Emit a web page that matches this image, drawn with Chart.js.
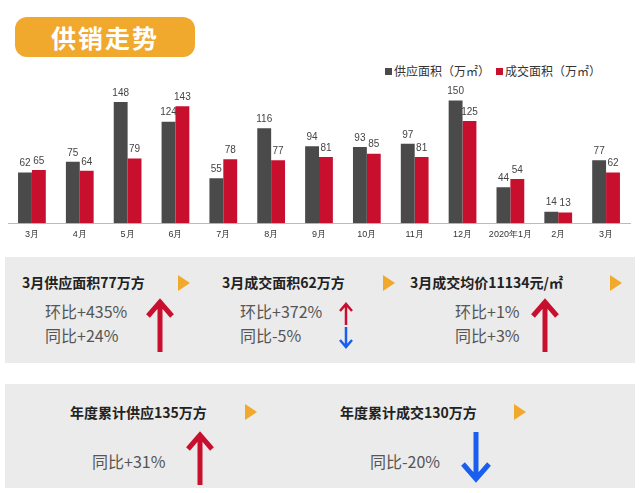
<!DOCTYPE html>
<html><head><meta charset="utf-8">
<script src="https://cdn.jsdelivr.net/npm/chart.js@4"></script>
<style>
body{margin:0;width:640px;height:493px;background:#fff;font-family:"Noto Sans CJK SC","Noto Sans",sans-serif;position:relative;overflow:hidden}
.abs{position:absolute;white-space:nowrap}
.badge{left:15px;top:17px;width:180px;height:40px;background:#f0a92c;border-radius:12px;color:#fff;font-size:25px;font-weight:bold;line-height:40px;text-align:center;letter-spacing:2px}
.panel{position:absolute;left:5px;width:630px;background:#ebebeb}
.h{font-size:14px;font-weight:bold;color:#222}
.s{font-size:16px;color:#555}
.tri{width:0;height:0;border-top:8px solid transparent;border-bottom:8px solid transparent;border-left:12px solid #f0a92c}
.leg{font-size:12px;color:#333;top:62px}
.sq{display:inline-block;width:7px;height:7px;margin-right:2px;vertical-align:1px}
</style></head><body>
<div class="abs badge">供销走势</div>
<div class="abs leg" style="left:385px"><span class="sq" style="background:#4a4a4a"></span>供应面积（万㎡）<span class="sq" style="background:#c8102e;margin-left:6px"></span>成交面积（万㎡）</div>
<div class="abs" style="left:0;top:80px;width:640px;height:166px"><canvas id="c"></canvas></div>

<div class="panel" style="top:257px;height:106px"></div>
<div class="panel" style="top:384px;height:104px"></div>

<div class="abs h" style="left:22px;top:272px">3月供应面积77万方</div><div class="abs tri" style="left:178px;top:275px"></div>
<div class="abs h" style="left:222px;top:272px">3月成交面积62万方</div><div class="abs tri" style="left:383px;top:275px"></div>
<div class="abs h" style="left:410px;top:272px">3月成交均价11134元/㎡</div><div class="abs tri" style="left:610px;top:275px"></div>
<div class="abs s" style="left:45px;top:299px">环比+435%</div>
<div class="abs s" style="left:45px;top:323px">同比+24%</div>
<div class="abs s" style="left:240px;top:299px">环比+372%</div>
<div class="abs s" style="left:240px;top:323px">同比-5%</div>
<div class="abs s" style="left:455px;top:299px">环比+1%</div>
<div class="abs s" style="left:455px;top:323px">同比+3%</div>
<div class="abs h" style="left:70px;top:402px">年度累计供应135万方</div><div class="abs tri" style="left:245px;top:404px"></div>
<div class="abs h" style="left:340px;top:402px">年度累计成交130万方</div><div class="abs tri" style="left:514px;top:404px"></div>
<div class="abs s" style="left:92px;top:449px">同比+31%</div>
<div class="abs s" style="left:370px;top:449px">同比-20%</div>

<svg class="abs" style="left:0;top:0" width="640" height="493">
<g fill="none" stroke-linecap="butt" stroke-linejoin="miter">
<path d="M160 352 V304 M148 316 L160 302 L172 316" stroke="#c8102e" stroke-width="5"/>
<path d="M346 325 V305 M340 311 L346 304 L352 311" stroke="#c8102e" stroke-width="2.5"/>
<path d="M346 327 V346 M340 340 L346 347 L352 340" stroke="#1a5ef0" stroke-width="2.5"/>
<path d="M545 352 V304 M533 316 L545 302 L557 316" stroke="#c8102e" stroke-width="5"/>
<path d="M200 485 V437 M188 449 L200 435 L212 449" stroke="#c8102e" stroke-width="5"/>
<path d="M476 432 V477 M463 464 L476 479 L489 464" stroke="#1a5ef0" stroke-width="5"/>
</g></svg>

<script>
const categories=["3月","4月","5月","6月","7月","8月","9月","10月","11月","12月","2020年1月","2月","3月"];
const supply=[62,75,148,124,55,116,94,93,97,150,44,14,77];
const deals=[65,64,79,143,78,77,81,85,81,125,54,13,62];
const labelPlugin={id:'lbl',afterDatasetsDraw(ch){const ctx=ch.ctx;ctx.save();ctx.font='10px "Liberation Sans",sans-serif';ctx.fillStyle='#444';ctx.textAlign='center';ctx.textBaseline='bottom';
ch.data.datasets.forEach((d,i)=>{ch.getDatasetMeta(i).data.forEach((b,j)=>{ctx.fillText(d.data[j],b.x,b.y-4);});});ctx.restore();}};
new Chart(document.getElementById('c'),{type:'bar',
data:{labels:categories,datasets:[
{label:'供应面积（万㎡）',data:supply,backgroundColor:'#4a4a4a',barPercentage:1,categoryPercentage:0.58},
{label:'成交面积（万㎡）',data:deals,backgroundColor:'#c8102e',barPercentage:1,categoryPercentage:0.58}]},
options:{responsive:true,maintainAspectRatio:false,animation:false,
layout:{padding:{left:8,right:10,top:0,bottom:0}},
plugins:{legend:{display:false},tooltip:{enabled:false}},
scales:{y:{display:false,min:0,max:175},
x:{grid:{display:false,drawTicks:false},border:{color:'#bbb'},ticks:{color:'#333',font:{size:9},padding:6,maxRotation:0,minRotation:0,autoSkip:false}}}},
plugins:[labelPlugin]});
</script>
</body></html>
